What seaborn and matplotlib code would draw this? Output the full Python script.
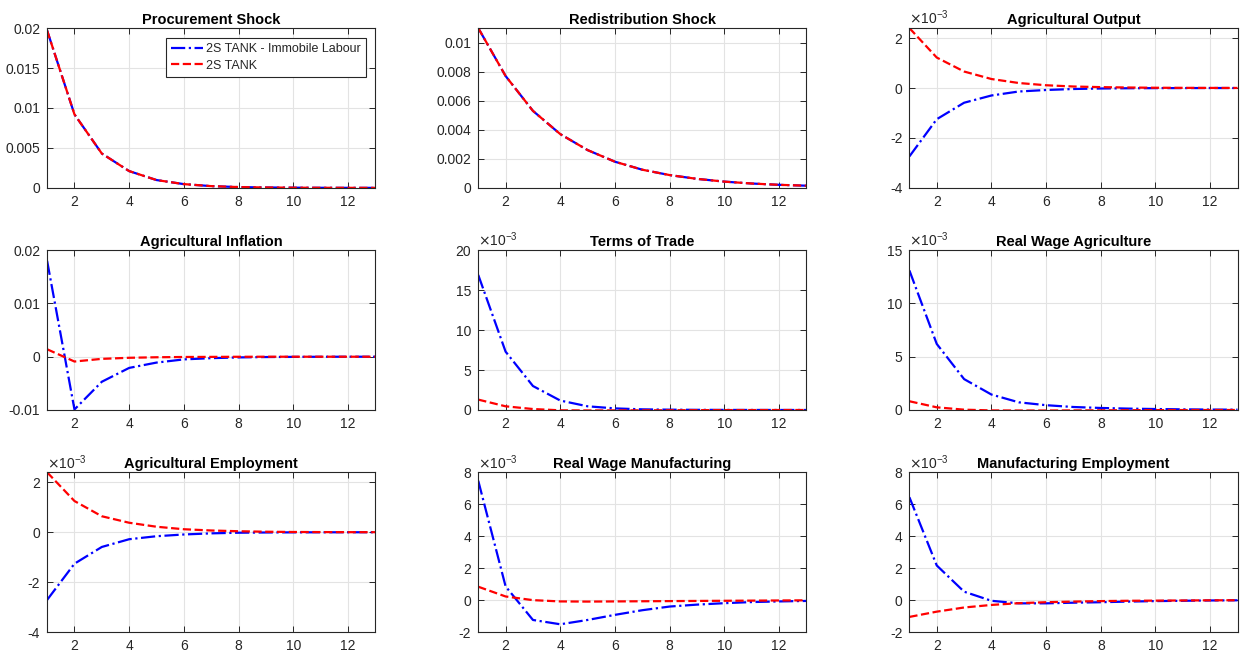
import numpy as np
import pandas as pd
import matplotlib
matplotlib.use("Agg")
import matplotlib.pyplot as plt
import seaborn as sns
from matplotlib.ticker import FuncFormatter

# -----------------------------
# Data
# -----------------------------
periods = list(range(1, 14))

procurement_imm = [0.0197, 0.0092, 0.0043, 0.0021, 0.00098, 0.00047, 0.00022,
                   0.0001, 0.00005, 0.000024, 0.000011, 0.000005, 0.0000025]
procurement_base = [0.0197, 0.0092, 0.0043, 0.0021, 0.00098, 0.00047, 0.00022,
                    0.0001, 0.00005, 0.000024, 0.000011, 0.000005, 0.0000025]

redistribution_imm = [0.011, 0.0077, 0.0053, 0.0037, 0.0026, 0.0018, 0.00125,
                      0.00088, 0.00062, 0.00043, 0.0003, 0.00021, 0.00015]
redistribution_base = [0.011, 0.0077, 0.0053, 0.0037, 0.0026, 0.0018, 0.00125,
                       0.00088, 0.00062, 0.00043, 0.0003, 0.00021, 0.00015]

# values below in units of 1e-3 where noted
agri_output_imm = [-2.74, -1.25, -0.59, -0.3, -0.14, -0.08, -0.04, -0.02, -0.01, -0.005, -0.003, -0.001, -0.0005]
agri_output_base = [2.4, 1.22, 0.66, 0.36, 0.2, 0.11, 0.06, 0.035, 0.02, 0.01, 0.006, 0.003, 0.002]

agri_infl_imm = [0.018, -0.0099, -0.0047, -0.0021, -0.0011, -0.0005, -0.00027,
                 -0.00013, -0.00006, -0.00003, -0.00001, 0.0, 0.0]
agri_infl_base = [0.0014, -0.0009, -0.0004, -0.0002, -0.0001, -0.00005, -0.00003,
                  -0.00001, 0.0, 0.0, 0.0, 0.0, 0.0]

tot_imm = [16.9, 7.3, 3.0, 1.18, 0.46, 0.2, 0.08, 0.04, 0.02, 0.01, 0.005, 0.002, 0.001]
tot_base = [1.3, 0.46, 0.12, -0.04, -0.06, -0.05, -0.04, -0.03, -0.02, -0.01, -0.006, -0.003, -0.001]

rw_agri_imm = [13.1, 6.2, 2.9, 1.45, 0.72, 0.45, 0.28, 0.19, 0.13, 0.09, 0.06, 0.04, 0.03]
rw_agri_base = [0.82, 0.25, 0.03, -0.04, -0.05, -0.05, -0.04, -0.03, -0.02, -0.01, -0.006, -0.003, -0.001]

agri_emp_imm = [-2.71, -1.26, -0.59, -0.28, -0.16, -0.09, -0.045, -0.02, -0.01, -0.005, -0.003, -0.001, -0.0005]
agri_emp_base = [2.4, 1.25, 0.64, 0.38, 0.22, 0.12, 0.07, 0.04, 0.02, 0.01, 0.006, 0.003, 0.002]

rw_manu_imm = [7.47, 0.86, -1.24, -1.51, -1.24, -0.92, -0.63, -0.4, -0.28, -0.19, -0.12, -0.08, -0.05]
rw_manu_base = [0.84, 0.23, 0.0, -0.08, -0.09, -0.08, -0.07, -0.06, -0.05, -0.04, -0.03, -0.02, -0.01]

manu_emp_imm = [6.44, 2.17, 0.53, -0.04, -0.2, -0.2, -0.16, -0.13, -0.09, -0.06, -0.04, -0.02, -0.01]
manu_emp_base = [-1.05, -0.72, -0.46, -0.3, -0.19, -0.13, -0.09, -0.06, -0.04, -0.03, -0.02, -0.01, -0.005]

titles = ["Procurement Shock", "Redistribution Shock", "Agricultural Output",
          "Agricultural Inflation", "Terms of Trade", "Real Wage Agriculture",
          "Agricultural Employment", "Real Wage Manufacturing", "Manufacturing Employment"]
series_imm = [procurement_imm, redistribution_imm, agri_output_imm, agri_infl_imm, tot_imm,
              rw_agri_imm, agri_emp_imm, rw_manu_imm, manu_emp_imm]
series_base = [procurement_base, redistribution_base, agri_output_base, agri_infl_base, tot_base,
               rw_agri_base, agri_emp_base, rw_manu_base, manu_emp_base]
scaled = [False, False, True, False, True, True, True, True, True]
yticks = [
    [0, 0.005, 0.01, 0.015, 0.02],
    [0, 0.002, 0.004, 0.006, 0.008, 0.01],
    [-4, -2, 0, 2],
    [-0.01, 0, 0.01, 0.02],
    [0, 5, 10, 15, 20],
    [0, 5, 10, 15],
    [-4, -2, 0, 2],
    [-2, 0, 2, 4, 6, 8],
    [-2, 0, 2, 4, 6, 8],
]
ylims = [(0, 0.02), (0, 0.011), (-4, 2.4), (-0.01, 0.02), (0, 20), (0, 15),
         (-4, 2.4), (-2, 8), (-2, 8)]
labels = ["2S TANK - Immobile Labour", "2S TANK"]

# -----------------------------
# Style
# -----------------------------
sns.set_style("ticks")
plt.rcParams["font.family"] = ["Liberation Sans", "DejaVu Sans"]
plt.rcParams["axes.unicode_minus"] = False
dark = "#262626"

fig, axes = plt.subplots(3, 3, figsize=(12.4, 6.53), dpi=100)
fig.subplots_adjust(left=0.038, right=0.998, top=0.957, bottom=0.032,
                    wspace=0.314, hspace=0.39)

for i, ax in enumerate(axes.flat):
    df = pd.DataFrame({"period": periods, "imm": series_imm[i], "base": series_base[i]})
    sns.lineplot(data=df, x="period", y="imm", ax=ax, color="#0000ff",
                 linestyle="-.", linewidth=1.6, label=labels[0])
    sns.lineplot(data=df, x="period", y="base", ax=ax, color="#ff0000",
                 linestyle="--", linewidth=1.6, label=labels[1])

    ax.set_xlim(1, 13)
    ax.set_xticks([2, 4, 6, 8, 10, 12])
    ax.set_ylim(*ylims[i])
    ax.set_yticks(yticks[i])
    ax.yaxis.set_major_formatter(FuncFormatter(lambda v, p: f"{v:g}"))
    ax.set_xlabel("")
    ax.set_ylabel("")
    ax.set_title(titles[i], fontsize=10.5, fontweight="bold", pad=3, color="black")
    ax.grid(True, color="#e3e3e3", linewidth=0.8)
    ax.set_axisbelow(True)
    ax.tick_params(direction="in", length=4, width=0.7, colors=dark,
                   labelsize=10, top=True, right=True, pad=5)
    for sp in ax.spines.values():
        sp.set_visible(True)
        sp.set_color(dark)
        sp.set_linewidth(0.8)

    if scaled[i]:
        ax.text(0.0, 1.005, r"$\times$10$^{\mathregular{-3}}$", transform=ax.transAxes,
                ha="left", va="bottom", fontsize=10, color=dark)

    if i == 0:
        leg = ax.legend(loc="upper right", fontsize=9, fancybox=False, framealpha=1,
                        edgecolor=dark, borderpad=0.4, handlelength=2.6,
                        handletextpad=0.2, labelspacing=0.35, bbox_to_anchor=(0.99, 0.975))
        leg.get_frame().set_linewidth(0.8)
    else:
        ax.get_legend().remove()

plt.savefig("out.png", dpi=100)
